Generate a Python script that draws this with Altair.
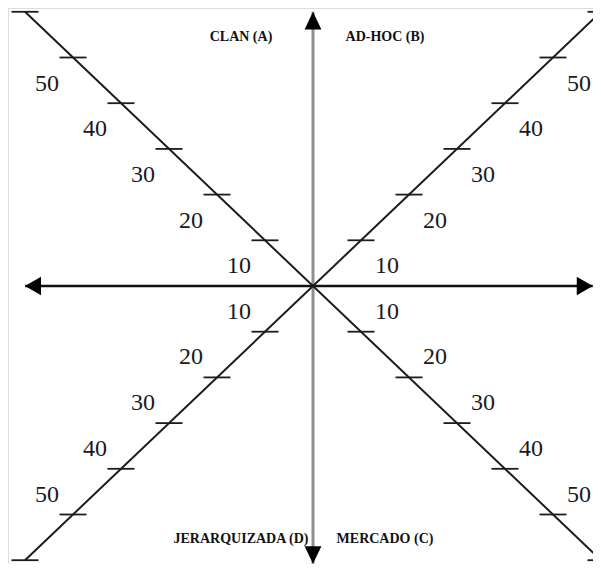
import altair as alt
import pandas as pd

# ---- data ----
tick_values = [10, 20, 30, 40, 50, 60]          # tick marks on each diagonal half
label_values = [10, 20, 30, 40, 50]             # numbered ticks
quadrant_names = ["CLAN (A)", "AD-HOC (B)", "MERCADO (C)", "JERARQUIZADA (D)"]
quadrant_sx = [-1, 1, 1, -1]
quadrant_sy = [1, 1, -1, -1]
axis_extent = 60

# ---- geometry (pixels per unit, view size) ----
PX_X, PX_Y = 4.8, 4.57
W, H = 585, 556
CX, CY = 305, 278
XMIN, XMAX = -CX / PX_X, (W - CX) / PX_X
YMIN, YMAX = -(H - CY) / PX_Y, CY / PX_Y
xs = alt.Scale(domain=[XMIN, XMAX], nice=False, zero=False)
ys = alt.Scale(domain=[YMIN, YMAX], nice=False, zero=False)

TICK_HALF = 13.5 / PX_X
LAB_DX = 26 / PX_X
LAB_DY_TOP = 25 / PX_Y
LAB_DY_BOT = 21 / PX_Y
NAME_X = 15
NAME_Y = 55

def X(f="x"):
    return alt.X(f"{f}:Q", scale=xs, axis=None)

def Y(f="y"):
    return alt.Y(f"{f}:Q", scale=ys, axis=None)

right_end = min(axis_extent, XMAX - 0.05)
bottom_end = max(-axis_extent - 0.8, YMIN + 0.05)

# axes
haxis = pd.DataFrame({"x": [-axis_extent], "x2": [right_end], "y": [0]})
vaxis = pd.DataFrame({"x": [0], "y": [bottom_end], "y2": [axis_extent]})
diag = pd.DataFrame({"x": [-axis_extent, -axis_extent], "y": [axis_extent, -axis_extent],
                     "x2": [axis_extent, axis_extent], "y2": [-axis_extent, axis_extent]})

tick_rows, lab_rows = [], []
for sx, sy in zip(quadrant_sx, quadrant_sy):
    dyo = LAB_DY_TOP if sy > 0 else LAB_DY_BOT
    for v in tick_values:
        tick_rows.append({"x": sx * v - TICK_HALF, "x2": sx * v + TICK_HALF, "y": sy * v})
    for v in label_values:
        lab_rows.append({"x": sx * (v + LAB_DX), "y": sy * (v - dyo), "t": str(v)})
ticks = pd.DataFrame(tick_rows)
labs = pd.DataFrame(lab_rows)
names = pd.DataFrame({"x": [s * NAME_X for s in quadrant_sx],
                      "y": [s * NAME_Y for s in quadrant_sy],
                      "t": quadrant_names})

line_col = "#1c1c1c"

h_rule = alt.Chart(haxis).mark_rule(color="#111111", strokeWidth=2.6).encode(x=X(), x2="x2:Q", y=Y())
v_rule = alt.Chart(vaxis).mark_rule(color="#8f8f8f", strokeWidth=3).encode(x=X(), y=Y(), y2="y2:Q")
d_rule = alt.Chart(diag).mark_rule(color=line_col, strokeWidth=2).encode(x=X(), y=Y(), x2="x2:Q", y2="y2:Q")
t_rule = alt.Chart(ticks).mark_rule(color=line_col, strokeWidth=1.8).encode(x=X(), x2="x2:Q", y=Y())

num_text = alt.Chart(labs).mark_text(font="Liberation Serif", fontSize=24, color="#1a1a1a",
                                     align="center", baseline="middle", dy=1
                                     ).encode(x=X(), y=Y(), text="t:N")
name_text = alt.Chart(names).mark_text(font="Liberation Serif", fontSize=14, fontWeight="bold",
                                       color="#111111", align="center", baseline="middle", dy=2
                                       ).encode(x=X(), y=Y(), text="t:N")

def arrow(x, y, path):
    df = pd.DataFrame({"x": [x], "y": [y]})
    return alt.Chart(df).mark_point(shape=path, filled=True, size=256, color="#000000",
                                    opacity=1, strokeWidth=0).encode(x=X(), y=Y())

a_left = arrow(-axis_extent, 0, "M 0 0 L 2 -1.15 L 2 1.15 Z")
a_right = arrow(right_end, 0, "M 0 0 L -2 -1.15 L -2 1.15 Z")
a_up = arrow(0, axis_extent, "M 0 0 L -1.05 2.2 L 1.05 2.2 Z")
a_down = arrow(0, bottom_end, "M 0 0 L -1.05 -2.2 L 1.05 -2.2 Z")

chart = alt.layer(v_rule, h_rule, d_rule, t_rule, num_text, name_text,
                  a_left, a_right, a_up, a_down).properties(
    width=W, height=H, padding=0, autosize=alt.AutoSizeParams(type="none")
).configure_view(stroke=None).configure(background="white")

chart.save("out.html", embed_options={"renderer": "svg", "actions": False})
